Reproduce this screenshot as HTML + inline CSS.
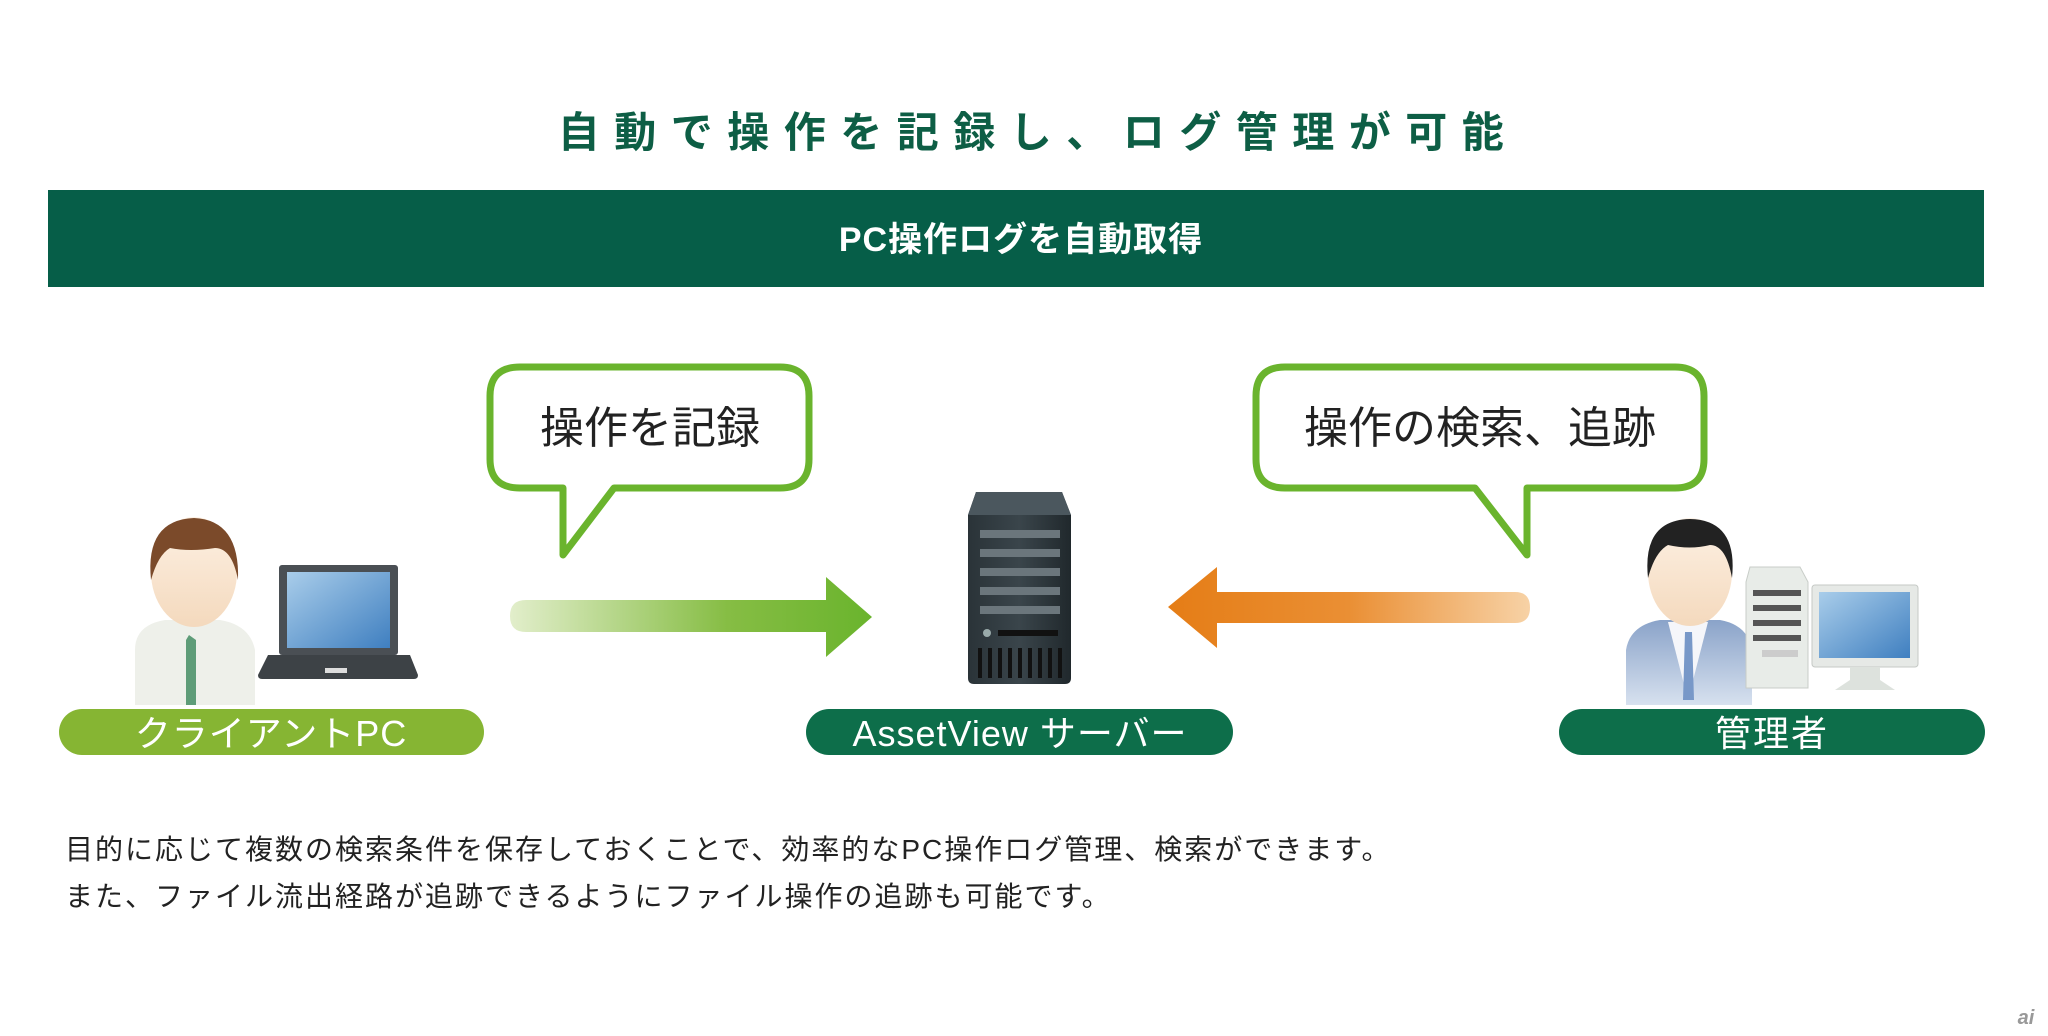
<!DOCTYPE html>
<html><head><meta charset="utf-8"><style>
html,body{margin:0;padding:0;background:#fff;}
svg{display:block;}
text{font-family:"Liberation Sans","Noto Sans CJK JP",sans-serif;}
</style></head><body>
<svg width="2048" height="1036" viewBox="0 0 2048 1036" xmlns="http://www.w3.org/2000/svg">
<defs>
<linearGradient id="ga" x1="0" x2="1" y1="0" y2="0"><stop offset="0" stop-color="#e2eecb"/><stop offset="0.6" stop-color="#86bd44"/><stop offset="1" stop-color="#6ab42d"/></linearGradient>
<linearGradient id="oa" x1="0" x2="1" y1="0" y2="0"><stop offset="0" stop-color="#e57d16"/><stop offset="0.5" stop-color="#ea8f34"/><stop offset="1" stop-color="#f7d2a6"/></linearGradient>
<linearGradient id="sv" x1="0" x2="1"><stop offset="0" stop-color="#2a3338"/><stop offset="0.5" stop-color="#3a454b"/><stop offset="1" stop-color="#20282c"/></linearGradient>
<linearGradient id="scr" x1="0" y1="0" x2="1" y2="1"><stop offset="0" stop-color="#a9cdea"/><stop offset="1" stop-color="#3f7fc0"/></linearGradient>
<linearGradient id="face" x1="0" y1="0" x2="0" y2="1"><stop offset="0" stop-color="#fdf1e4"/><stop offset="1" stop-color="#f4d9bd"/></linearGradient>
<linearGradient id="suit" x1="0" y1="0" x2="0" y2="1"><stop offset="0" stop-color="#8aa3c9"/><stop offset="1" stop-color="#d7e1ef"/></linearGradient>
</defs>
<text x="1038" y="147" font-size="42" font-weight="bold" fill="#0d5e45" text-anchor="middle" letter-spacing="14.5">自動で操作を記録し、ログ管理が可能</text>
<rect x="48" y="190" width="1936" height="97" fill="#065e48"/>
<text x="1021" y="251" font-size="34" font-weight="bold" fill="#fff" text-anchor="middle" letter-spacing="1">PC操作ログを自動取得</text>

<!-- bubble 1 -->
<path d="M520,367 H780 Q809,367 809,396 V459 Q809,488 780,488 H614 L563,555 V488 H520 Q490,488 490,459 V396 Q490,367 520,367 Z" fill="#fff" stroke="#6ab42d" stroke-width="7" stroke-linejoin="round"/>
<text x="650" y="443" font-size="44" fill="#222" text-anchor="middle">操作を記録</text>
<!-- bubble 2 -->
<path d="M1285,367 H1675 Q1704,367 1704,396 V459 Q1704,488 1675,488 H1527 V555 L1475,488 H1285 Q1256,488 1256,459 V396 Q1256,367 1285,367 Z" fill="#fff" stroke="#6ab42d" stroke-width="7" stroke-linejoin="round"/>
<text x="1480" y="443" font-size="44" fill="#222" text-anchor="middle">操作の検索、追跡</text>

<!-- green arrow -->
<path d="M526,600 H826 V577 L872,617 L826,657 V632 H526 Q510,632 510,616 Q510,600 526,600 Z" fill="url(#ga)"/>
<!-- orange arrow -->
<path d="M1515,592 H1217 V567 L1168,607 L1217,648 V623 H1515 Q1530,623 1530,607.5 Q1530,592 1515,592 Z" fill="url(#oa)"/>

<!-- server -->
<path d="M976,492 H1062 L1071,515 V678 Q1071,684 1065,684 H974 Q968,684 968,678 V515 Z" fill="url(#sv)"/>
<path d="M976,492 H1062 L1071,515 H968 Z" fill="#4b575e"/>
<g fill="#6b767c"><rect x="980" y="530" width="80" height="8"/><rect x="980" y="549" width="80" height="8"/><rect x="980" y="568" width="80" height="8"/><rect x="980" y="587" width="80" height="8"/><rect x="980" y="606" width="80" height="8"/></g>
<circle cx="987" cy="633" r="4" fill="#9aa"/><rect x="998" y="630" width="60" height="6" fill="#111"/>
<g fill="#111"><rect x="978" y="648" width="4" height="30"/><rect x="988" y="648" width="4" height="30"/><rect x="998" y="648" width="4" height="30"/><rect x="1008" y="648" width="4" height="30"/><rect x="1018" y="648" width="4" height="30"/><rect x="1028" y="648" width="4" height="30"/><rect x="1038" y="648" width="4" height="30"/><rect x="1048" y="648" width="4" height="30"/><rect x="1058" y="648" width="4" height="30"/></g>

<!-- client person -->
<path d="M135,705 V650 Q135,625 165,620 H220 Q250,625 255,650 V705 Z" fill="#eef0ea"/>
<path d="M189,635 L196,640 L196,705 H186 L186,640 Z" fill="#5e9c78"/>
<ellipse cx="194" cy="572" rx="43" ry="55" fill="url(#face)"/>
<path d="M151,580 Q145,520 194,518 Q240,520 238,580 Q232,548 215,548 Q190,552 170,548 Q158,555 151,580 Z" fill="#7b4a2a"/>
<!-- laptop -->
<rect x="279" y="565" width="119" height="90" rx="3" fill="#4a4f54"/>
<rect x="287" y="572" width="103" height="76" fill="url(#scr)"/>
<path d="M268,655 H410 L418,675 Q418,679 414,679 H262 Q258,679 258,675 Z" fill="#3d4246"/>
<rect x="325" y="668" width="22" height="5" fill="#ddd"/>

<!-- admin person -->
<path d="M1626,705 V650 Q1630,625 1660,620 H1720 Q1748,625 1752,650 V705 Z" fill="url(#suit)"/>
<path d="M1668,622 L1688,700 L1708,622 Z" fill="#f5f6fa"/>
<path d="M1685,632 L1692,632 L1694,700 H1683 Z" fill="#7898c8"/>
<ellipse cx="1690" cy="572" rx="42" ry="54" fill="url(#face)"/>
<path d="M1648,578 Q1642,520 1690,519 Q1738,520 1732,578 Q1726,545 1710,545 Q1690,550 1668,545 Q1655,552 1648,578 Z" fill="#222"/>
<!-- tower -->
<path d="M1750,567 H1800 L1808,582 V688 H1746 V582 Z" fill="#e8ece8" stroke="#c8cdc8"/>
<g fill="#555"><rect x="1753" y="590" width="48" height="6"/><rect x="1753" y="605" width="48" height="6"/><rect x="1753" y="620" width="48" height="6"/><rect x="1753" y="635" width="48" height="6"/></g>
<rect x="1762" y="650" width="36" height="7" fill="#ccc"/>
<!-- monitor -->
<rect x="1812" y="585" width="106" height="82" rx="3" fill="#e6e9e6" stroke="#c5c9c5"/>
<rect x="1819" y="592" width="91" height="66" fill="url(#scr)"/>
<path d="M1850,667 H1880 V680 L1895,690 H1835 L1850,680 Z" fill="#dde2dd"/>

<!-- pills -->
<rect x="59" y="709" width="425" height="46" rx="23" fill="#86b533"/>
<text x="271" y="746" font-size="36" fill="#fff" text-anchor="middle" letter-spacing="1">クライアントPC</text>
<rect x="806" y="709" width="427" height="46" rx="23" fill="#0d6e4a"/>
<text x="1020" y="746" font-size="36" fill="#fff" text-anchor="middle" letter-spacing="1">AssetView サーバー</text>
<rect x="1559" y="709" width="426" height="46" rx="23" fill="#0d6e4a"/>
<text x="1772" y="746" font-size="36" fill="#fff" text-anchor="middle" letter-spacing="2">管理者</text>

<!-- body text -->
<text x="65" y="859" font-size="28" fill="#222" letter-spacing="2">目的に応じて複数の検索条件を保存しておくことで、効率的なPC操作ログ管理、検索ができます。</text>
<text x="65" y="906" font-size="28" fill="#222" letter-spacing="2">また、ファイル流出経路が追跡できるようにファイル操作の追跡も可能です。</text>

<text x="2026" y="1024" font-size="20" font-style="italic" font-weight="bold" fill="#999" text-anchor="middle">ai</text>
</svg>
</body></html>
